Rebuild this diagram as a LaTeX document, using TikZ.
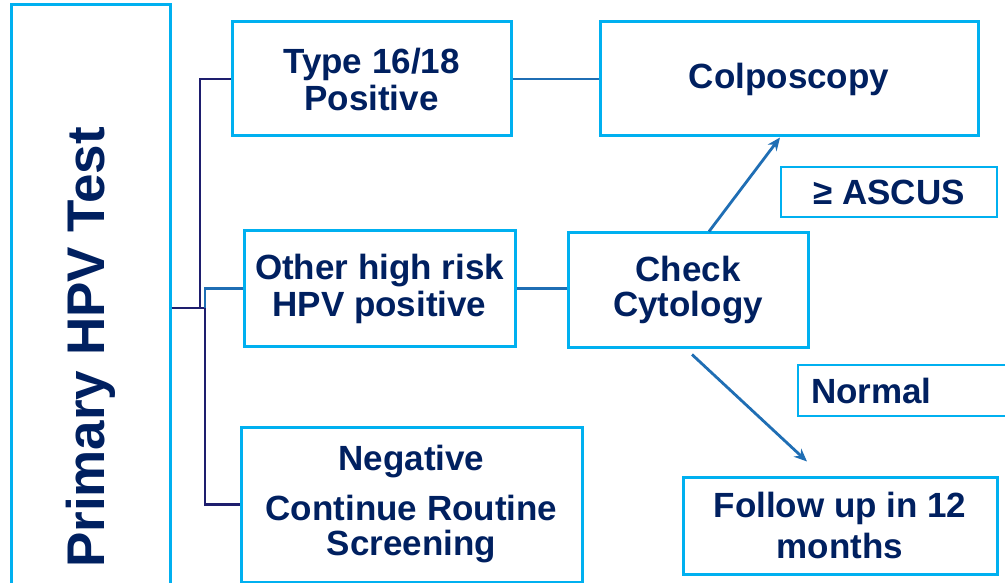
\documentclass[tikz,border=0pt]{standalone}
\usepackage{fontspec}
\setmainfont{Liberation Sans}
\usetikzlibrary{arrows.meta, positioning, calc}
\definecolor{cEdge}{RGB}{0,176,240}
\definecolor{cText}{RGB}{0,32,96}
\definecolor{cTrunk}{RGB}{30,30,110}
\definecolor{cLink}{RGB}{31,110,180}

\begin{document}
\begin{tikzpicture}[x=1pt, y=-1pt,
    every node/.style={font=\bfseries\fontsize{35}{37}\selectfont, text=cText},
    box/.style={draw=cEdge, line width=3pt, align=center, inner sep=4pt},
    trunk/.style={line width=2.8pt, cTrunk},
    link/.style={line width=2.8pt, cLink},
    flow/.style={line width=2.8pt, cLink, -{Stealth[length=13pt, width=11pt]}}]
        \clip (0,0) rectangle (1005,583);
        \fill[white] (0,0) rectangle (1005,583);
        % left column
        \node[box, minimum width=159, minimum height=685] (hpv) at (90.5,347.5)
          {\rotatebox{90}{\fontsize{53}{60}\selectfont Primary HPV Test}};
        % results of the test
        \node[box, minimum width=279, minimum height=114] (type) at (371.5,79) {Type 16/18\\Positive};
        \node[box, minimum width=271, minimum height=115] (other) at (379.5,288.5) {Other high risk\\HPV positive};
        \node[box, minimum width=341, minimum height=155] (neg) at (411.5,504.5) {Negative\\[13pt]Continue Routine\\[-2pt]Screening};
        % next steps
        \node[box, minimum width=378, minimum height=114] (colpo) at (789,79) {Colposcopy};
        \node[box, minimum width=240, minimum height=114] (check) at (688,290) {Check\\[-2pt]Cytology};
        \node[box, minimum width=314, minimum height=97] (follow) at (840,525.5) {Follow up in 12\\[4pt]months};
        \node[box, line width=2pt, minimum width=216, minimum height=50] (ascus) at (889,192) {≥ ASCUS};
        \node[box, line width=2pt, minimum height=51, text width=206, align=left, inner xsep=13pt] (normal) at (914,390.5) {Normal};
        % connectors
        \coordinate (split) at (200,308);
        \coordinate (split2) at (205,308);
        \draw[trunk] (split -| hpv.east) -- (split2);
        \draw[trunk] (split) |- (type.west);
        \draw[trunk] (split2) |- (neg.west);
        \draw[link] (split2) |- (other.west);
        \draw[link] (type.east) -- (colpo.west);
        \draw[link] (other.east) -- (other.east -| check.west);
        \draw[flow] ([xshift=21pt]check.north) -- ([xshift=-9pt]colpo.south);
        \draw[flow] ([xshift=4pt, yshift=-6pt]check.south) -- ([xshift=-33pt, yshift=14pt]follow.north);
      \end{tikzpicture}
\end{document}
